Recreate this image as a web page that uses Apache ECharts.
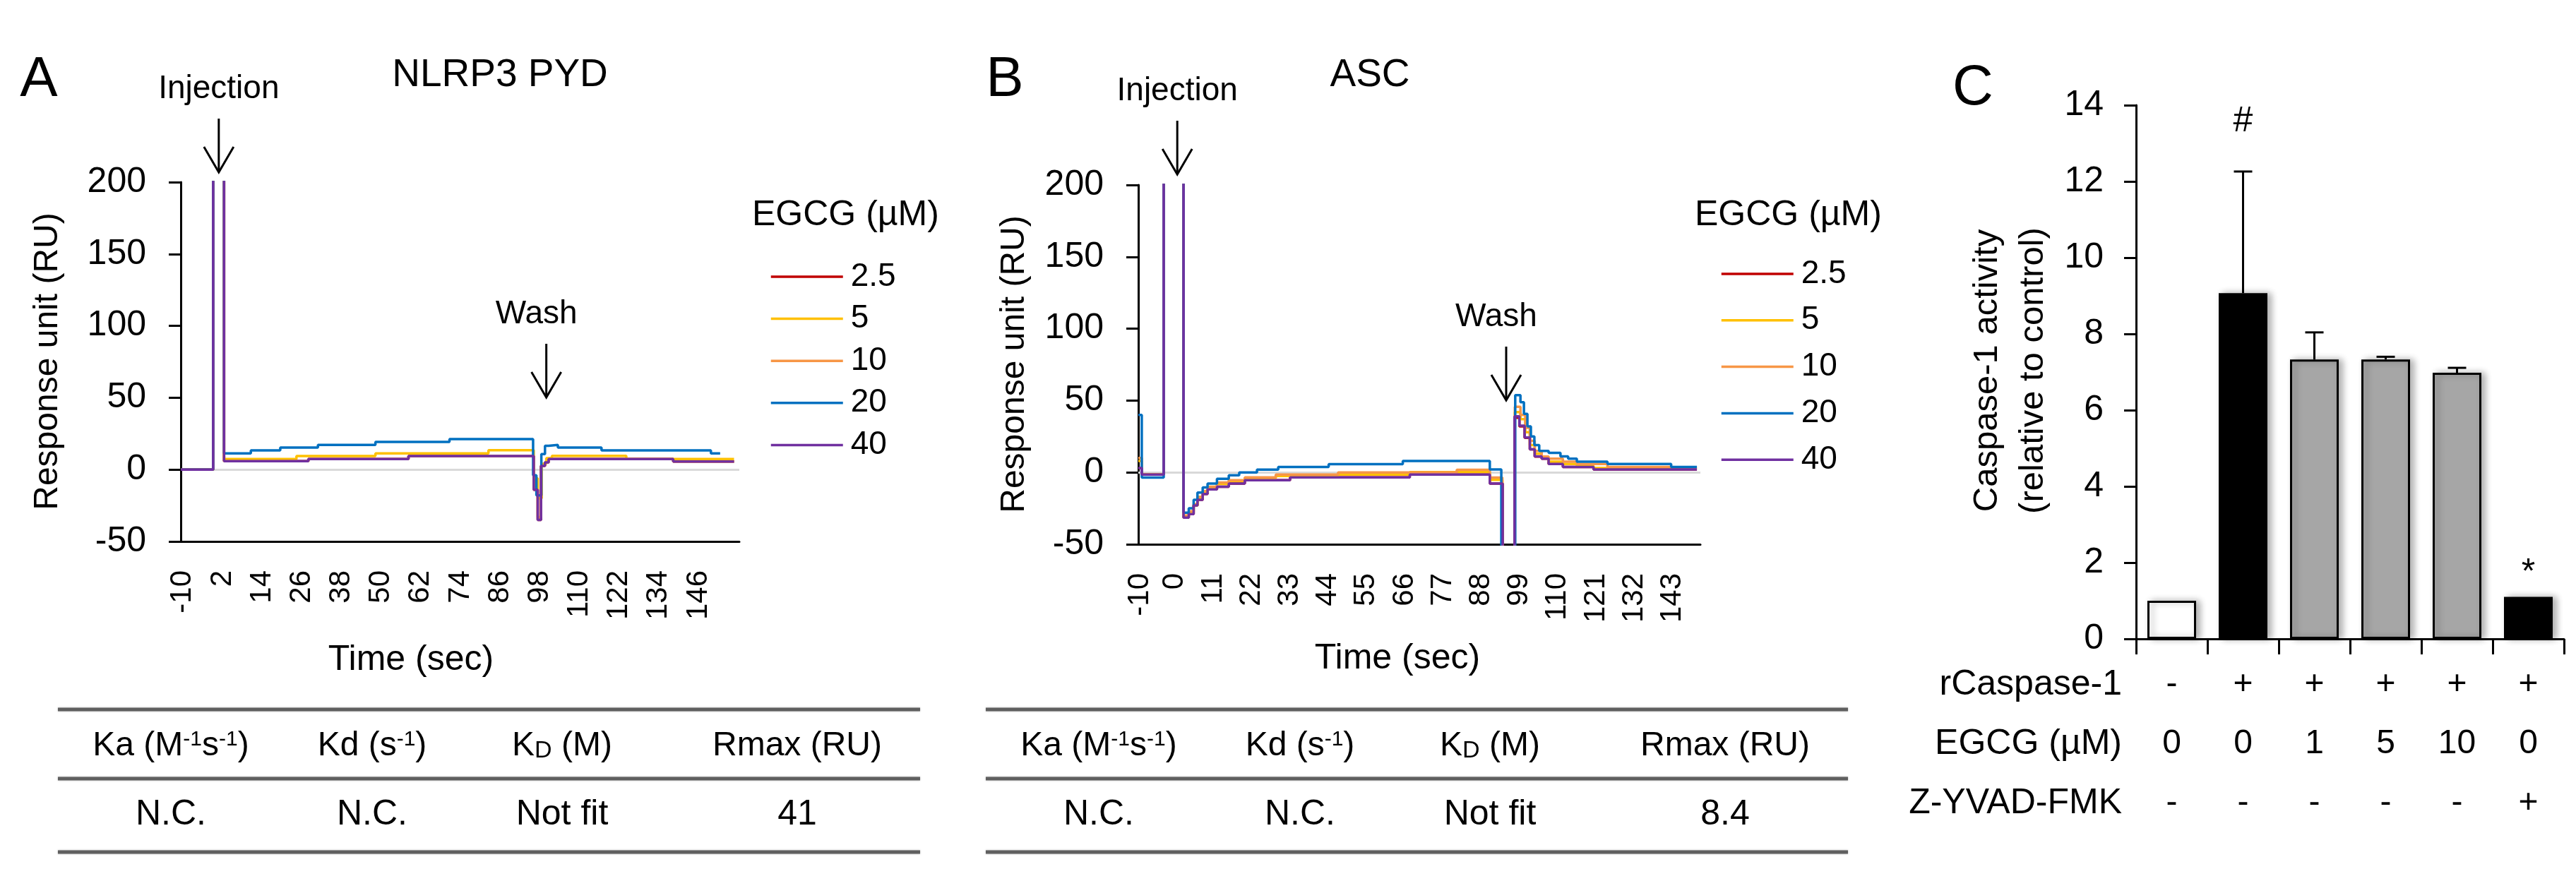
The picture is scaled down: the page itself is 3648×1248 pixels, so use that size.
<!DOCTYPE html>
<html>
<head>
<meta charset="utf-8">
<title>EGCG binding (SPR) and caspase-1 activity</title>
<script src="https://cdn.jsdelivr.net/npm/echarts@6/dist/echarts.min.js"></script>
<style>
  html, body { margin: 0; padding: 0; background: #fff; }
  #main { width: 3648px; height: 1248px; }
</style>
</head>
<body>
<div id="main"></div>
<script>
// ---------- data ----------
// EGCG concentrations (uM), one sensorgram each
const doses = ['2.5', '5', '10', '20', '40'];

// time labels printed under the two sensorgrams
const ticksA = [-10, 2, 14, 26, 38, 50, 62, 74, 86, 98, 110, 122, 134, 146];
const ticksB = [-10, 0, 11, 22, 33, 44, 55, 66, 77, 88, 99, 110, 121, 132, 143];

// injection / wash times (sec)
const eventsA = [['Injection', 0.9], ['Wash', 100]];
const eventsB = [['Injection', 0.7], ['Wash', 95.2]];

// NLRP3 PYD sensorgrams, [time (sec), response (RU)], value held until next point
const nlrpRed = [[-10.6, 0], [-0.8, 260], [2.5, 5.9], [28, 7.4], [58.3, 9.4], [96.2, -14], [97.4, -35], [98.4, 2.6], [99.6, 5], [100.7, 7.4], [138.4, 5.6], [156.8, 5.6]];
const nlrpYellow = [[-10.6, 0], [-0.8, 260], [2.5, 7.4], [24.4, 9.4], [48.3, 11.3], [82.5, 13.5], [96.2, -6], [97.4, -20], [98.6, 4], [100, 8], [101.7, 9.5], [124.2, 7.4], [156.8, 7.4]];
const nlrpOrange = [[-10.6, 0], [-0.8, 260], [2.5, 5.9], [28, 7.4], [58.3, 9.4], [96.2, -14], [97.4, -33], [98.4, 2.6], [99.6, 5], [100.7, 7.4], [138.4, 5.6], [156.8, 5.6]];
const nlrpBlue = [[-10.6, 0], [-0.8, 260], [2.5, 11.3], [10.6, 13.3], [19.5, 15.3], [30.9, 17.2], [48.3, 19.2], [70.7, 21.2], [96, -4], [97, -18], [98.5, 10.8], [99.6, 16.6], [100.7, 17.2], [103.5, 15.3], [116.7, 13.3], [149.8, 11.3], [152.6, 11.3]];
const nlrpPurple = [[-10.6, 0], [-0.8, 260], [2.5, 5.9], [28, 7.4], [58.3, 9.4], [96.2, -14], [97.4, -35], [98.4, 2.6], [99.6, 5], [100.7, 7.4], [138.4, 5.6], [156.8, 5.6]];

// ASC sensorgrams
const ascRed = [[-10.5, 3], [-9.5, -1.5], [-3.2, 260], [2.5, -31.5], [4, -29], [5.4, -23], [6.5, -19], [8, -15], [9.4, -11.8], [12.1, -10], [15.5, -7.7], [20.1, -5.4], [33.1, -3.5], [67.5, -1.5], [90.5, -7.7], [94.2, -80], [97.6, 38], [99, 32], [100.5, 24], [102, 16], [103.4, 11], [105.4, 9.5], [107.4, 5.9], [111.5, 3.8], [120.3, 2.1], [150, 2.1]];
const ascYellow = [[-10.5, 8], [-9.5, -1.5], [-3.2, 260], [2.5, -30.5], [4, -28], [5.4, -23], [6.5, -18], [8, -14], [9.4, -11], [12.1, -8], [15.5, -6], [20.1, -4], [29, -2.5], [46.9, -1.5], [67.5, 0.2], [90.5, -5.2], [94.1, -80], [97.7, 42], [99.3, 37], [100.7, 28], [102, 19], [103.4, 13], [105.4, 10], [107.4, 7.5], [111.5, 5.9], [115.5, 4.5], [120.3, 3], [150, 3]];
const ascOrange = [[-10.5, 10], [-9.5, -1.5], [-3.2, 260], [2.5, -30], [4, -27], [5.4, -22], [6.5, -17], [8, -13], [9.4, -10], [12.1, -7], [15.5, -5.4], [20.1, -3.5], [29, -1.5], [46.9, 0], [81, 1.8], [90.5, -3.6], [94.1, -80], [97.7, 45.7], [99.3, 40], [100.7, 31], [102, 22], [103.4, 15], [105.4, 11], [107.4, 9.5], [111.5, 7.5], [115.5, 5.9], [124.3, 3.8], [142.6, 2.9], [150, 2.9]];
const ascBlue = [[-10.5, 40], [-9.5, -3.6], [-3.2, 260], [2.5, -28], [4, -25], [5.4, -19], [6.5, -14], [8, -10.5], [9.4, -7.7], [12.1, -4.4], [15.5, -2], [18.5, 0], [23.6, 2], [29.7, 3.8], [44.2, 5.7], [65.5, 7.9], [90.5, 2.1], [93.8, -80], [97.8, 53.8], [99.3, 48.9], [100.3, 40.7], [101.3, 32], [102.3, 25], [103.3, 19], [104.7, 15], [107.4, 13.6], [110.8, 11.2], [113, 9.5], [115.5, 7.5], [124.3, 5.9], [142.6, 3.8], [150, 3.8]];
const ascPurple = [[-10.5, 3], [-9.5, -1.5], [-3.2, 260], [2.5, -31.5], [4, -29], [5.4, -23], [6.5, -19], [8, -15], [9.4, -11.8], [12.1, -10], [15.5, -7.7], [20.1, -5.4], [33.1, -3.5], [67.5, -1.5], [90.5, -7.7], [94.2, -80], [97.6, 39], [99, 32.5], [100.5, 24.3], [102, 16.1], [103.4, 11.2], [105.4, 9.5], [107.4, 5.9], [111.5, 3.8], [120.3, 2.1], [150, 2.1]];

// kinetics tables
const kinHeaders = ['Ka (M{s|-1}s{s|-1})', 'Kd (s{s|-1})', 'K{d|D} (M)', 'Rmax (RU)'];
const kinA = ['N.C.', 'N.C.', 'Not fit', '41'];
const kinB = ['N.C.', 'N.C.', 'Not fit', '8.4'];

// panel C: caspase-1 activity
const rCaspase = ['-', '+', '+', '+', '+', '+'];
const egcgDose = ['0', '0', '1', '5', '10', '0'];
const zyvad = ['-', '-', '-', '-', '-', '+'];
const activity = [1.0, 9.07, 7.33, 7.33, 6.98, 1.1];
const activitySd = [0, 3.19, 0.71, 0.07, 0.13, 0];
const sigMarks = ['', '#', '', '', '', '*'];

// ---------- styles ----------
const FONT = '"Liberation Sans", Arial, Helvetica, sans-serif';
const LINE_COLORS = ['#C00000', '#FFC000', '#F79646', '#0070C0', '#7030A0'];
const BAR_FILLS = ['#ffffff', '#000000', '#a6a6a6', '#a6a6a6', '#a6a6a6', '#000000'];
const MARK_LIFT = { '#': 71, '*': 33 };

function sprSeries(idx, sets) {
  return sets.map((data, k) => {
    const s = {
      type: 'line', name: doses[k], data: data,
      xAxisIndex: idx, yAxisIndex: idx,
      step: 'end', symbol: 'none', clip: true,
      lineStyle: { color: LINE_COLORS[k], width: 3.5 },
      itemStyle: { color: LINE_COLORS[k] },
      emphasis: { disabled: true }
    };
    if (k === 0) {
      s.markLine = {
        silent: true, z: 1, symbol: ['none', 'none'], label: { show: false },
        lineStyle: { color: '#d9d9d9', width: 3, type: 'solid' },
        data: [{ yAxis: 0 }]
      };
    }
    return s;
  });
}

function timeAxis(idx, min, max, ticks) {
  return {
    gridIndex: idx, type: 'value', min: min, max: max,
    axisLine: { show: true, onZero: false, lineStyle: { color: '#000', width: 3 } },
    axisTick: { show: false }, splitLine: { show: false },
    axisLabel: { customValues: ticks, rotate: 90, fontSize: 42, margin: 41, color: '#000', fontFamily: FONT }
  };
}

function valueAxis(idx, min, max, step, margin) {
  return {
    gridIndex: idx, type: 'value', min: min, max: max, interval: step,
    axisLine: { show: true, onZero: false, lineStyle: { color: '#000', width: 3 } },
    axisTick: { show: true, length: 17, lineStyle: { color: '#000', width: 3 } },
    splitLine: { show: false },
    axisLabel: { fontSize: 50, margin: margin, color: '#000', fontFamily: FONT }
  };
}

// line-only legend: the marker symbol is made fully transparent
function legendFor(left, top, gap) {
  return {
    data: doses, orient: 'vertical', left: left, top: top, padding: 0,
    itemWidth: 102, itemHeight: 46, itemGap: gap, selectedMode: false,
    itemStyle: { opacity: 0 },
    lineStyle: { width: 3.5, opacity: 1 },
    textStyle: { fontSize: 46, lineHeight: 46, color: '#000', fontFamily: FONT, padding: [0, 0, 0, 6] }
  };
}

const chart = echarts.init(document.getElementById('main'), null, { width: 3648, height: 1248 });

const option = {
  animation: false,
  backgroundColor: '#fff',
  textStyle: { fontFamily: FONT },
  grid: [
    { left: 256, top: 258, width: 791, height: 509 },
    { left: 1612, top: 262, width: 796, height: 509 },
    { left: 3025, top: 149, width: 606, height: 756 }
  ],
  legend: [legendFor(1090, 369, 13.6), legendFor(2436, 365, 19.8)],
  xAxis: [
    timeAxis(0, -10.6, 158.4, ticksA),
    timeAxis(1, -10.5, 151, ticksB),
    {
      gridIndex: 2, type: 'category',
      data: rCaspase.map((r, i) => [r, egcgDose[i], zyvad[i]].join('\n')),
      axisLine: { show: true, lineStyle: { color: '#000', width: 3 } },
      axisTick: { show: true, length: 22, lineStyle: { color: '#000', width: 3 } },
      axisLabel: { interval: 0, fontSize: 48, lineHeight: 84, margin: 23, color: '#000', fontFamily: FONT }
    }
  ],
  yAxis: [
    valueAxis(0, -50, 200, 50, 49),
    valueAxis(1, -50, 200, 50, 49),
    valueAxis(2, 0, 14, 2, 46)
  ],
  series: [].concat(
    sprSeries(0, [nlrpRed, nlrpYellow, nlrpOrange, nlrpBlue, nlrpPurple]),
    sprSeries(1, [ascRed, ascYellow, ascOrange, ascBlue, ascPurple]),
    [
      {
        type: 'bar', xAxisIndex: 2, yAxisIndex: 2, barWidth: 69,
        data: activity.map((v, i) => ({ value: v, itemStyle: { color: BAR_FILLS[i] } })),
        itemStyle: { borderColor: '#000', borderWidth: 3, shadowBlur: 10, shadowOffsetX: 5, shadowColor: 'rgba(0,0,0,0.3)' },
        emphasis: { disabled: true }
      },
      {
        type: 'custom', xAxisIndex: 2, yAxisIndex: 2, z: 5,
        data: activity.map((v, i) => [i, v, activitySd[i]]),
        renderItem: function (params, api) {
          const i = api.value(0), m = api.value(1), sd = api.value(2);
          const base = api.coord([i, m]);
          const top = api.coord([i, m + sd]);
          const kids = [];
          if (sd > 0) {
            kids.push({ type: 'line', shape: { x1: base[0], y1: base[1], x2: top[0], y2: top[1] }, style: { stroke: '#000', lineWidth: 3 } });
            kids.push({ type: 'line', shape: { x1: top[0] - 13, y1: top[1], x2: top[0] + 13, y2: top[1] }, style: { stroke: '#000', lineWidth: 3 } });
          }
          const mark = sigMarks[params.dataIndex];
          if (mark) {
            kids.push({
              type: 'text', x: top[0], y: top[1] - MARK_LIFT[mark],
              style: { text: mark, fontSize: 50, fontFamily: FONT, fill: '#000', align: 'center', verticalAlign: 'middle', textAlign: 'center', textVerticalAlign: 'middle' }
            });
          }
          return { type: 'group', children: kids };
        }
      }
    ]
  )
};

chart.setOption(option);

// ---------- annotations, titles and tables ----------
function label(x, y, text, size, align, extra) {
  const a = align || 'center';
  const el = {
    type: 'text', x: x, y: y, silent: true,
    style: { text: text, fontSize: size, fontFamily: FONT, fill: '#000', align: a, verticalAlign: 'middle', textAlign: a, textVerticalAlign: 'middle' }
  };
  if (extra) {
    if (extra.rich) el.style.rich = extra.rich;
    if (extra.lineHeight) el.style.lineHeight = extra.lineHeight;
    if (extra.rotation) el.rotation = extra.rotation;
  }
  return el;
}

function arrow(x, y0, y1) {
  return [
    { type: 'line', silent: true, shape: { x1: x, y1: y0, x2: x, y2: y1 }, style: { stroke: '#000', lineWidth: 3 } },
    { type: 'polyline', silent: true, shape: { points: [[x - 21, y1 - 36], [x, y1], [x + 21, y1 - 36]] }, style: { stroke: '#000', lineWidth: 3, fill: null } }
  ];
}

function eventMarks(axisIdx, events, textY) {
  let out = [];
  events.forEach(function (ev) {
    const x = chart.convertToPixel({ xAxisIndex: axisIdx }, ev[1]);
    const isWash = ev[0] === 'Wash';
    out.push(label(x - (isWash ? 14 : 0), textY[isWash ? 1 : 0], ev[0], 46));
    const y0 = textY[isWash ? 1 : 0] + 42;
    out = out.concat(arrow(x, y0, y0 + 76));
  });
  return out;
}

const TABLE_COLS = [160, 445, 714, 1047];
const TABLE_RICH = {
  s: { fontSize: 30, fontFamily: FONT, fill: '#000', verticalAlign: 'top' },
  d: { fontSize: 34, fontFamily: FONT, fill: '#000', verticalAlign: 'bottom' }
};
function kinTable(left, values) {
  const out = [];
  [1005, 1103, 1207].forEach(function (y) {
    out.push({ type: 'line', silent: true, shape: { x1: left, y1: y, x2: left + 1221, y2: y },
      style: { stroke: '#5f5f5f', lineWidth: 5, shadowBlur: 3, shadowColor: 'rgba(0,0,0,0.25)' } });
  });
  TABLE_COLS.forEach(function (c, i) {
    out.push(label(left + c, 1057, kinHeaders[i], 48, 'center', { rich: TABLE_RICH }));
    out.push(label(left + c, 1154, values[i], 50));
  });
  return out;
}

const rowNames = ['rCaspase-1', 'EGCG (\u00b5M)', 'Z-YVAD-FMK'];

let graphics = [
  label(55, 114, 'A', 80),
  label(1423, 114, 'B', 80),
  label(2794, 126, 'C', 80),
  label(708, 107, 'NLRP3 PYD', 55),
  label(1940, 107, 'ASC', 55),
  label(1065, 305, 'EGCG (\u00b5M)', 50, 'left'),
  label(2400, 305, 'EGCG (\u00b5M)', 50, 'left'),
  label(68, 512, 'Response unit (RU)', 48, 'center', { rotation: Math.PI / 2 }),
  label(1437, 516, 'Response unit (RU)', 48, 'center', { rotation: Math.PI / 2 }),
  label(582, 935, 'Time (sec)', 50),
  label(1979, 933, 'Time (sec)', 50),
  label(2847, 525, 'Caspase-1 activity\n(relative to control)', 49, 'center', { rotation: Math.PI / 2, lineHeight: 65 })
];
rowNames.forEach(function (n, i) {
  graphics.push(label(3005, 970 + i * 84, n, 50, 'right'));
});
graphics = graphics
  .concat(eventMarks(0, eventsA, [126, 445]))
  .concat(eventMarks(1, eventsB, [129, 449]))
  .concat(kinTable(82, kinA))
  .concat(kinTable(1396, kinB));

chart.setOption({ graphic: { elements: graphics } });
</script>
</body>
</html>
